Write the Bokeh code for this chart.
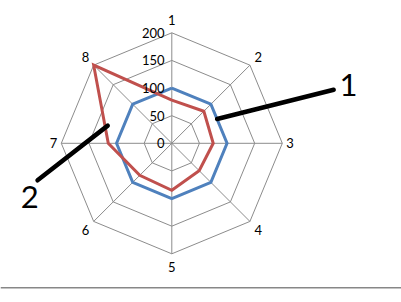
import numpy as np
from bokeh.plotting import figure
from bokeh.models import ColumnDataSource, Span
from bokeh.core.properties import value
from bokeh.embed import file_html
from bokeh.resources import INLINE

categories = ["1", "2", "3", "4", "5", "6", "7", "8"]
blue_values = [100, 100, 100, 100, 100, 100, 100, 100]
red_values = [78, 82, 75, 70, 85, 82, 115, 200]
ring_values = [0, 50, 100, 150, 200]
ring_labels = ["0", "50", "100", "150", "200"]
callout_labels = ["1", "2"]
# callout line ends (data units): start (near the series), end (at the label)
callout_x0 = [82, -116]
callout_y0 = [44, 32]
callout_x1 = [293, -243]
callout_y1 = [97, -67]
callout_tx = [320, -257]
callout_ty = [105, -98]

BLUE = "#4F81BD"
RED = "#C0504D"
GRID = "#8C8C8C"
FONT = "Lato"

s = 0.5525  # px per unit
cx, cy = 171.3, 142.8
W, H = 401, 302

p = figure(width=W, height=H, output_backend="svg", toolbar_location=None,
           x_range=(-cx / s, (W - cx) / s), y_range=(-(H - cy) / s, cy / s),
           min_border=0)
p.axis.visible = False
p.grid.visible = False
p.outline_line_color = None
p.background_fill_color = "white"
p.border_fill_color = "white"

n = len(categories)
ang = np.pi / 2 - 2 * np.pi * np.arange(n) / n

def closed(vals):
    v = np.asarray(vals, dtype=float)
    x = v * np.cos(ang)
    y = v * np.sin(ang)
    return list(np.append(x, x[0])), list(np.append(y, y[0]))

# grid rings
for r in ring_values[1:]:
    xs, ys = closed([r] * n)
    p.line(xs, ys, line_color=GRID, line_width=1)
# spokes
rmax = ring_values[-1]
p.segment(x0=[0] * n, y0=[0] * n, x1=list(rmax * np.cos(ang)), y1=list(rmax * np.sin(ang)),
          line_color=GRID, line_width=1)

# series
xs, ys = closed(blue_values)
p.line(xs, ys, line_color=BLUE, line_width=3, line_join="miter")
xs, ys = closed(red_values)
p.line(xs, ys, line_color=RED, line_width=3, line_join="miter")

# category labels
lr = 214 + 10 * np.abs(np.sin(ang))
p.text(x=list(lr * np.cos(ang)), y=list(lr * np.sin(ang)), text=categories,
       text_font=value(FONT), text_font_size="13px", text_color="black",
       text_align="center", text_baseline="middle")

# ring value labels
p.text(x=[-13] * len(ring_values), y=ring_values, text=ring_labels,
       text_font=value(FONT), text_font_size="13px", text_color="black",
       text_align="right", text_baseline="middle")

# callouts
p.segment(x0=callout_x0, y0=callout_y0, x1=callout_x1, y1=callout_y1,
          line_color="black", line_width=4.5, line_cap="round")
p.text(x=callout_tx, y=callout_ty, text=callout_labels,
       text_font=value(FONT), text_font_size="31px", text_color="black",
       text_align="center", text_baseline="middle")

# bottom border line
p.add_layout(Span(location=-(287.3 - cy) / s, dimension="width",
                  line_color="#878787", line_width=1.5))

open("out.html", "w").write(file_html(p, INLINE))
